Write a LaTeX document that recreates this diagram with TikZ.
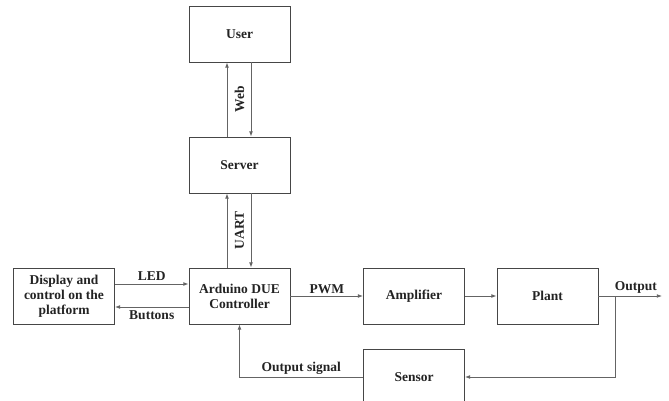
\documentclass[tikz,border=0pt]{standalone}
\usepackage{fontspec}
\setmainfont{Liberation Serif}
\usetikzlibrary{
  arrows.meta,
  calc
}
\definecolor{boxcolor}{RGB}{70, 70, 70}
\definecolor{arrowcolor}{RGB}{100, 100, 100}
\definecolor{labelcolor}{RGB}{35, 35, 35}
\tikzset{
blocktext/.style={
  align=center,
  font=\bfseries\fontsize{13.5}{15}\selectfont,
  text=labelcolor
},
block/.style={
  draw=boxcolor,
  line width=0.8pt,
  minimum height=56pt,
  minimum width=101pt,
  inner sep=2pt,
  blocktext
},
sigtext/.style={
  blocktext,
  inner sep=2pt
},
arrow/.style={
  -{Latex[length=1.8mm,width=1.3mm]},
  line width=0.8pt,
  draw=arrowcolor
}
}
\begin{document}
\begin{tikzpicture}[x=1pt, y=-1pt]
  \useasboundingbox (0,0) rectangle (669,401);

  % blocks
  \node[block] (user) at (239.5,34) {User};
  \node[block] (server) at (239.5,165) {Server};
  \node[block] (arduino) at (239.5,296) {Arduino DUE\\Controller};
  \node[block] (display) at (64,296) {Display and\\control on the\\platform};
  \node[block] (amp) at (414,296) {Amplifier};
  \node[block] (plant) at (547.5,296) {Plant};
  \node[block] (sensor) at (414,377) {Sensor};

  \coordinate (out) at (662,296);
  \coordinate (branch) at (615,296);
  \coordinate (fbcorner) at (239.5,377);

  % user <-> server
  \draw[arrow] ([xshift=-12.5pt]server.north) -- ([xshift=-12.5pt]user.south);
  \draw[arrow] ([xshift=11.5pt]user.south) -- ([xshift=11.5pt]server.north);
  \node[sigtext, rotate=90] (web) at ($(user.south)!0.5!(server.north)$) {Web};

  % server <-> arduino
  \draw[arrow] ([xshift=-12.5pt]arduino.north) -- ([xshift=-12.5pt]server.south);
  \draw[arrow] ([xshift=11.5pt]server.south) -- ([xshift=11.5pt]arduino.north);
  \node[sigtext, rotate=90] (uart) at ($(server.south)!0.5!(arduino.north)$) {UART};

  % display <-> arduino
  \draw[arrow] ([yshift=12pt]display.east) -- node[sigtext, above=1pt] {LED} ([yshift=12pt]arduino.west);
  \draw[arrow] ([yshift=-11pt]arduino.west) -- node[sigtext, below=1pt] {Buttons} ([yshift=-11pt]display.east);

  % forward path
  \draw[arrow] (arduino.east) -- node[sigtext, above] {PWM} (amp.west);
  \draw[arrow] (amp.east) -- (plant.west);
  \draw[arrow] (plant.east) -- node[sigtext, above, pos=0.59] {Output} (out);

  % feedback
  \draw[arrow] (branch) |- (sensor.east);
  \draw[arrow] (sensor.west) -- node[sigtext, above] {Output signal} (fbcorner) -- (arduino.south);
\end{tikzpicture}
\end{document}
